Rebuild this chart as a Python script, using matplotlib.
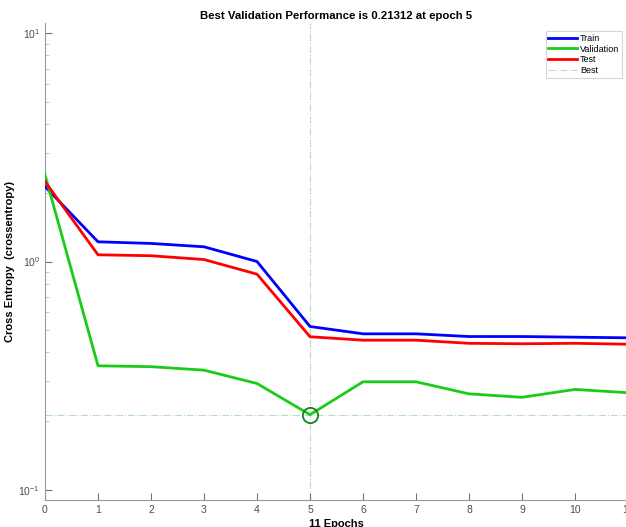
import matplotlib
matplotlib.use("Agg")
import matplotlib.pyplot as plt
from matplotlib.ticker import LogLocator, NullFormatter

epochs = [0, 1, 2, 3, 4, 5, 6, 7, 8, 9, 10, 11]
train = [2.13, 1.22, 1.20, 1.16, 1.00, 0.519, 0.482, 0.482, 0.469, 0.469, 0.466, 0.463]
validation = [2.40, 0.349, 0.346, 0.334, 0.292, 0.21312, 0.297, 0.297, 0.263, 0.254, 0.275, 0.266]
test = [2.24, 1.07, 1.06, 1.02, 0.88, 0.468, 0.452, 0.452, 0.438, 0.436, 0.438, 0.434]
best_epoch = 5
best_value = 0.21312
xticks = list(range(0, 12))

plt.rcParams['font.family'] = ['Liberation Sans', 'DejaVu Sans']

W, H = 626, 527
fig = plt.figure(figsize=(W / 100, H / 100), dpi=100)
left, right, top, bottom = 45, 628, 23, 500
ax = fig.add_axes([left / W, (H - bottom) / H, (right - left) / W, (bottom - top) / H])

ax.plot(epochs, train, color=(0, 0, 1), lw=2, label='Train', zorder=3)
ax.plot(epochs, validation, color=(0.1, 0.8, 0.1), lw=2, label='Validation', zorder=3)
ax.plot(epochs, test, color=(1, 0, 0), lw=2, label='Test', zorder=3)
best_col = (0.72, 0.88, 0.72)
ax.axvline(best_epoch, color=best_col, lw=0.8, ls='-.', label='Best', zorder=1)
ax.axhline(best_value, color=best_col, lw=0.8, ls='-.', zorder=1)
ax.plot([best_epoch], [best_value], marker='o', ms=11, mfc='none', mec=(0.1, 0.5, 0.1), mew=1.3, zorder=4)

ax.set_yscale('log')
ax.set_xlim(0, 11)
ax.set_ylim(0.0901, 11.1)
ax.set_xticks(xticks)
ax.yaxis.set_major_locator(LogLocator(base=10, numticks=10))
ax.yaxis.set_minor_locator(LogLocator(base=10, subs=range(2, 10), numticks=10))
ax.yaxis.set_minor_formatter(NullFormatter())

grey = (0.45, 0.45, 0.45)
for s in ['top', 'right']:
    ax.spines[s].set_visible(False)
for s in ['left', 'bottom']:
    ax.spines[s].set_color((0.6, 0.6, 0.6))
    ax.spines[s].set_linewidth(0.8)
ax.tick_params(axis='both', which='major', direction='in', length=5, color=grey,
               labelcolor=(0.3, 0.3, 0.3), labelsize=7.5, width=0.8)
ax.tick_params(axis='y', which='minor', direction='in', length=3, color=(0.8, 0.8, 0.8), width=0.8)

ax.set_title('Best Validation Performance is 0.21312 at epoch 5', fontsize=8.2,
             fontweight='bold', pad=3)
ax.set_xlabel('11 Epochs', fontsize=8, fontweight='bold', labelpad=3)
ax.set_ylabel('Cross Entropy  (crossentropy)', fontsize=8, fontweight='bold')
ax.yaxis.set_label_coords((15 - left) / (right - left), 0.5)

leg = ax.legend(loc='upper right', bbox_to_anchor=((622 - left) / (right - left), 1 - (31 - top) / (bottom - top)),
                fontsize=6.5, frameon=True, fancybox=False, handlelength=3.2,
                handletextpad=0.3, borderpad=0.3, labelspacing=0.2, borderaxespad=0)
leg.get_frame().set_edgecolor((0.8, 0.8, 0.8))
leg.get_frame().set_linewidth(0.8)

fig.savefig('out.png', dpi=100)
